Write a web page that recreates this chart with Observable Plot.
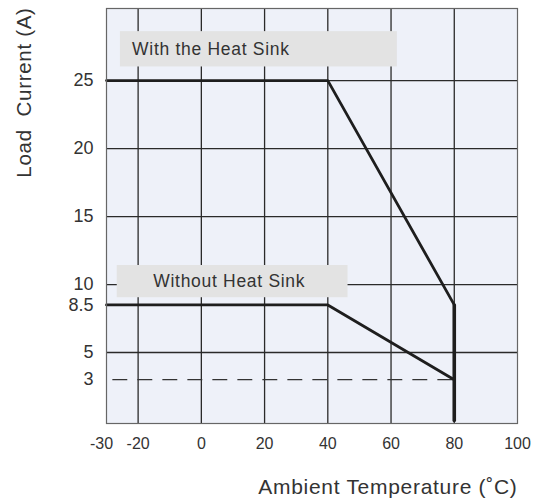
<!DOCTYPE html>
<html><head><meta charset="utf-8">
<script src="https://cdn.jsdelivr.net/npm/d3@7"></script>
<script src="https://cdn.jsdelivr.net/npm/@observablehq/plot@0.6"></script>
<style>
body{margin:0;background:#fff;}
</style></head><body><div id="chart"></div>
<script>
// Ticks and grid
const xTicks = [-30, -20, 0, 20, 40, 60, 80, 100];
const yTicks = [3, 5, 8.5, 10, 15, 20, 25];
const xGrid = [-20, 0, 20, 40, 60, 80];
const yGrid = [5, 10, 15, 20, 25];
// Derating curves
const withSinkTemp = [-30, 40, 80];
const withSinkCurrent = [25, 25, 8.5];
const cutoffTemp = [80, 80];
const cutoffCurrent = [8.5, 0];
const withoutSinkTemp = [-30, 40, 80];
const withoutSinkCurrent = [8.5, 8.5, 3];
const guideTemp = [-28, 80];
const guideCurrent = [3, 3];
// Annotation labels (data units)
const labelText = ["With the Heat Sink", "Without Heat Sink"];
const labelX = [-21.9, -15.2];
const labelY = [27.3, 10.2];
const boxX1 = [-25.6, -26.6];
const boxX2 = [62, 46.4];
const boxY1 = [26, 9.03];
const boxY2 = [28.6, 11.4];
const xTitle = "Ambient Temperature (˚C)";
const yTitle = "Load  Current (A)";

const zip = (xs, ys) => xs.map((x, i) => ({x, y: ys[i]}));
const withSink = zip(withSinkTemp, withSinkCurrent);
const cutoff = zip(cutoffTemp, cutoffCurrent);
const withoutSink = zip(withoutSinkTemp, withoutSinkCurrent);
const guide = zip(guideTemp, guideCurrent);
const boxes = labelText.map((t, i) => ({x1: boxX1[i], x2: boxX2[i], y1: boxY1[i], y2: boxY2[i]}));
const labels = labelText.map((t, i) => ({t, x: labelX[i], y: labelY[i]}));

const chart = Plot.plot({
  width: 535, height: 503,
  marginLeft: 106, marginRight: 18, marginTop: 8, marginBottom: 80,
  x: {domain: [-30, 100]},
  y: {domain: [-0.22, 30.3]},
  style: {fontFamily: "'Liberation Sans', Arial, sans-serif", color: "#333", background: "#fff"},
  marks: [
    Plot.frame({fill: "#eef1f9"}),
    Plot.ruleX(xGrid, {stroke: "#2a2a2a", strokeWidth: 1.3}),
    Plot.ruleY(yGrid, {stroke: "#2a2a2a", strokeWidth: 1.3}),
    Plot.rect(boxes, {x1: "x1", x2: "x2", y1: "y1", y2: "y2", fill: "#e3e3e3"}),
    Plot.text(labels, {x: "x", y: "y", text: "t", textAnchor: "start", fontSize: 17.5, fill: "#333"}),
    Plot.line(guide, {x: "x", y: "y", stroke: "#333", strokeWidth: 1.2, strokeDasharray: "14,11"}),
    Plot.line(withSink, {x: "x", y: "y", stroke: "#1e1e1e", strokeWidth: 2.8}),
    Plot.line(withoutSink, {x: "x", y: "y", stroke: "#1e1e1e", strokeWidth: 2.8}),
    Plot.line(cutoff, {x: "x", y: "y", stroke: "#1e1e1e", strokeWidth: 3.6}),
    Plot.frame({stroke: "#666", strokeWidth: 1.2}),
    Plot.axisX(xTicks, {tickSize: 0, tickPadding: 14, fontSize: 16, tickFormat: d => String(d), label: null}),
    Plot.axisY(yTicks, {tickSize: 0, tickPadding: 13, fontSize: 18, tickFormat: d => String(d), label: null}),
    Plot.text([xTitle], {frameAnchor: "bottom-right", textAnchor: "end", dy: 70, fontSize: 21, fill: "#333"}),
    Plot.text([yTitle], {frameAnchor: "top-left", textAnchor: "middle", rotate: -90, dx: -90, dy: 84, fontSize: 20.5, fill: "#333"})
  ]
});
// widen the stretched-looking texts of the original scan
const spacing = new Map([[labelText[0], "0.7px"], [labelText[1], "0.7px"], [xTitle, "0.7px"], [yTitle, "0.7px"]]);
chart.querySelectorAll("text").forEach(t => {
  const s = spacing.get(t.textContent);
  if (s) t.style.letterSpacing = s;
  if (t.textContent === String(xTicks[0])) t.setAttribute("dx", "-5");
});
document.getElementById("chart").appendChild(chart);
</script></body></html>
